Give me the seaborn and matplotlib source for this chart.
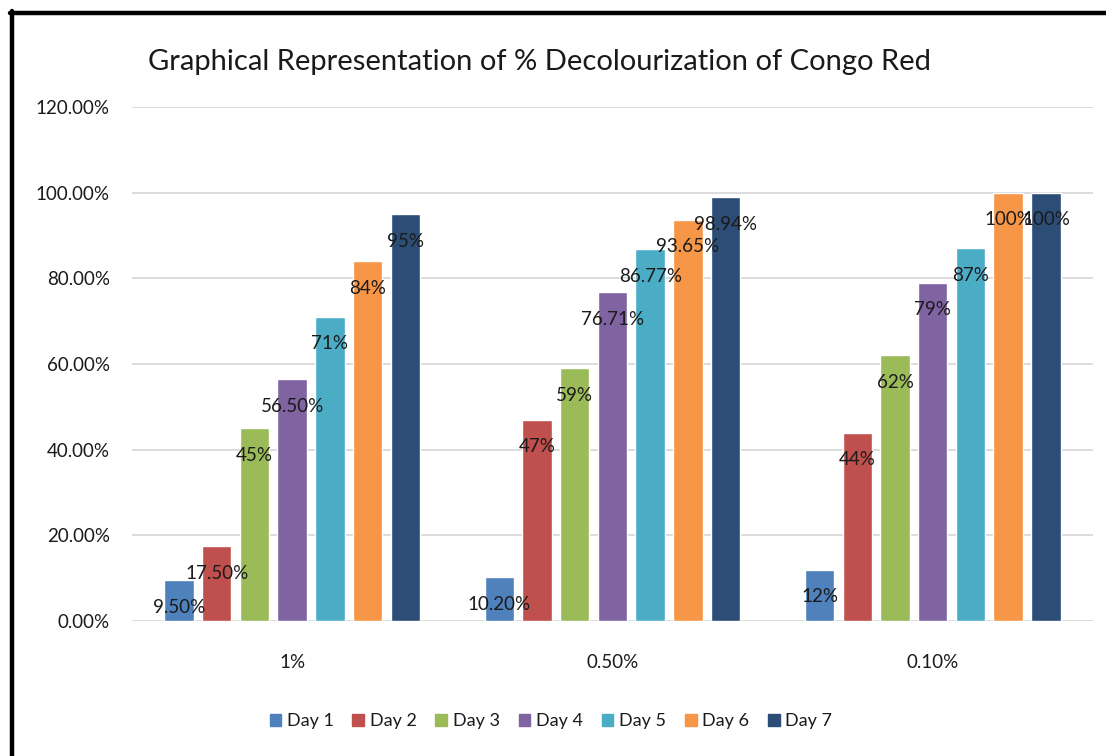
import pandas as pd
import matplotlib.pyplot as plt
import seaborn as sns
from matplotlib.ticker import PercentFormatter
from matplotlib.lines import Line2D

# Dades: % decoloració del vermell Congo
concentracions = ['1%', '0.50%', '0.10%']
dies = ['Day 1', 'Day 2', 'Day 3', 'Day 4', 'Day 5', 'Day 6', 'Day 7']
conc_1 = [0.095, 0.175, 0.45, 0.565, 0.71, 0.84, 0.95]
conc_050 = [0.102, 0.47, 0.59, 0.7671, 0.8677, 0.9365, 0.9894]
conc_010 = [0.12, 0.44, 0.62, 0.79, 0.87, 1.00, 1.00]
colors = ['#4F81BD', '#C0504D', '#9BBB59', '#8064A2', '#4BACC6', '#F79646', '#2C4D75']

rows = []
for conc, vals in zip(concentracions, [conc_1, conc_050, conc_010]):
    for dia, v in zip(dies, vals):
        rows.append({'Concentracio': conc, 'Dia': dia, 'Valor': v})
df = pd.DataFrame(rows)

sns.set_style("white")
plt.rcParams['font.family'] = ['Lato', 'DejaVu Sans']

fig = plt.figure(figsize=(11.06, 7.56), dpi=100)
ax = fig.add_axes([0.1193, 0.1786, 0.8689, 0.6799])

sns.barplot(data=df, x='Concentracio', y='Valor', hue='Dia', order=concentracions,
            hue_order=dies, palette=colors, width=0.824, gap=0.22,
            saturation=1, legend=False, ax=ax)

# Etiquetes de dades (format Excel)
def fmt(v):
    p = v * 100
    if abs(p - round(p)) < 1e-9:
        return f"{int(round(p))}%"
    return f"{p:.2f}%"

for cont in ax.containers:
    for bar in cont:
        h = bar.get_height()
        ax.annotate(fmt(h), (bar.get_x() + bar.get_width() / 2, h),
                    xytext=(0, -19.5), textcoords='offset points',
                    ha='center', va='center', fontsize=13.5, color='#1a1a1a')

ax.set_ylim(0, 1.2)
ax.set_xlim(-0.5, 2.5)
ax.set_yticks([0, 0.2, 0.4, 0.6, 0.8, 1.0, 1.2])
ax.yaxis.set_major_formatter(PercentFormatter(1.0, decimals=2))
ax.grid(axis='y', color='#D9D9D9', linewidth=1.3)
ax.set_axisbelow(True)
for s in ax.spines.values():
    s.set_visible(False)
ax.tick_params(axis='both', length=0, labelsize=13.5, labelcolor='#1a1a1a')
ax.tick_params(axis='y', pad=16)
ax.tick_params(axis='x', pad=24)
ax.set_xlabel('')
ax.set_ylabel('')

fig.text(0.488, 0.918, 'Graphical Representation of % Decolourization of Congo Red',
         ha='center', va='center', fontsize=21, color='#1a1a1a')

handles = [plt.Rectangle((0, 0), 1, 1, color=c) for c in colors]
fig.legend(handles, dies, loc='center', bbox_to_anchor=(0.498, 0.046), ncol=7,
           frameon=False, fontsize=13, handlelength=0.65, handleheight=0.7,
           handletextpad=0.3, columnspacing=1.05, labelcolor='#1a1a1a')

# Marc negre (esquerra i dalt)
fig.add_artist(Line2D([11.5 / 1106, 11.5 / 1106], [0, 1 - 11 / 756],
                      transform=fig.transFigure, color='black', linewidth=3.2))
fig.add_artist(Line2D([9.5 / 1106, 1], [1 - 12.5 / 756, 1 - 12.5 / 756],
                      transform=fig.transFigure, color='black', linewidth=3.2))

fig.savefig('out.png', dpi=100)
